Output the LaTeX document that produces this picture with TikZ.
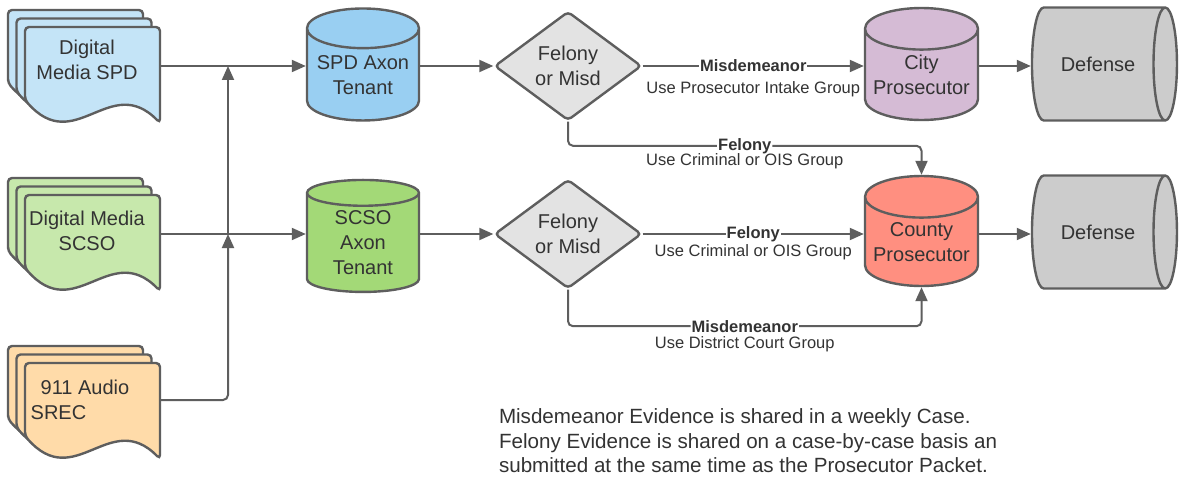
\documentclass[tikz,border=0pt]{standalone}
\usepackage{fontspec}
\setmainfont{Liberation Sans}
\usetikzlibrary{shapes.geometric,arrows.meta}

\definecolor{ink}{HTML}{333333}
\definecolor{wire}{HTML}{5E5E5E}
\definecolor{spdlight}{HTML}{C4E4F7}
\definecolor{spdblue}{HTML}{99CFF2}
\definecolor{scsolight}{HTML}{C7E8AC}
\definecolor{scsogreen}{HTML}{A3D977}
\definecolor{audiotan}{HTML}{FFDBA9}
\definecolor{decide}{HTML}{E3E3E3}
\definecolor{citypink}{HTML}{D5BBD5}
\definecolor{countyred}{HTML}{FF8F80}
\definecolor{defgray}{HTML}{CCCCCC}

% one sheet of a document stack, top left corner at (#1,#2)
\newcommand{\docsheet}[3]{%
  \draw[sheet, fill=#3] (#1,#2+73) -- (#1,#2) -- (#1+135,#2) -- (#1+135,#2+96)
    .. controls (#1+85,#2+45) and (#1+50,#2+130) .. (#1,#2+73) -- cycle;}

\tikzset{
  sheet/.style={draw=wire, line width=2.4pt, rounded corners=4pt},
  doc/.style={align=center, inner sep=0pt, minimum width=144pt, text=ink,
    font=\fontsize{20}{25}\selectfont},
  tank/.style={cylinder, shape border rotate=90, aspect=0.43, draw=wire,
    line width=2.4pt, minimum width=112pt, minimum height=112pt, align=center,
    text=ink, inner sep=0pt, font=\fontsize{20}{25}\selectfont},
  drum/.style={cylinder, aspect=1.6, draw=wire, fill=defgray, line width=2.4pt,
    minimum width=113pt, minimum height=145pt, text=ink, inner sep=0pt,
    font=\fontsize{20}{25}\selectfont},
  choice/.style={diamond, draw=wire, fill=decide, line width=2.4pt,
    rounded corners=4pt, minimum width=147pt, minimum height=109pt, inner sep=0pt,
    align=center, text=ink, font=\fontsize{20}{25}\selectfont},
  lbl/.style={fill=white, inner sep=1pt, text=ink, font=\fontsize{16.5}{18}\selectfont\bfseries},
  sub/.style={text=ink, inner sep=0pt, font=\fontsize{16.5}{18}\selectfont}
}

\begin{document}
\begin{tikzpicture}[x=1pt, y=-1pt, >={Triangle[length=14pt,width=12pt]},
    every path/.style={draw=wire, line width=2pt}]
  \useasboundingbox[fill=white, draw=none] (0,0) rectangle (1180,481);

  % sources
  \docsheet{8}{10}{spdlight}
  \docsheet{16.5}{18.5}{spdlight}
  \docsheet{25}{27}{spdlight}
  \docsheet{8}{178}{scsolight}
  \docsheet{16.5}{186.5}{scsolight}
  \docsheet{25}{195}{scsolight}
  \docsheet{8}{346}{audiotan}
  \docsheet{16.5}{354.5}{audiotan}
  \docsheet{25}{363}{audiotan}
  \node[doc] (spd) at (87,60) {Digital\\Media SPD};
  \node[doc] (scso) at (87,231) {Digital Media\\SCSO};
  \node[doc, align=left, minimum width=158pt] (audio) at (80,400) {\hspace*{10pt}911 Audio\\SREC};

  \node[tank, fill=spdblue] (spdaxon) at (363,75) {SPD Axon\\Tenant};
  \node[tank, fill=scsogreen] (scsoaxon) at (363,243) {SCSO\\Axon\\Tenant};

  \node[choice] (dia1) at (568,66) {Felony\\or Misd};
  \node[choice] (dia2) at (568,234) {Felony\\or Misd};

  \node[tank, fill=citypink, minimum width=113pt] (city) at (921.5,75) {City\\Prosecutor};
  \node[tank, fill=countyred, minimum width=113pt, minimum height=110pt] (county) at (921.5,242) {County\\Prosecutor};

  \node[drum] (def1) at (1098,64) {Defense};
  \node[drum] (def2) at (1098,232) {Defense};

  \coordinate (jspd) at (228,66);
  \coordinate (jscso) at (228,234);

  \draw[->] (spd.east |- dia1) -- (spdaxon.west |- dia1);
  \draw[->] (scso.east |- dia2) -- (scsoaxon.west |- dia2);
  \draw[->, rounded corners=5pt] (audio.east) -| (jscso);
  \draw[->] (jscso) -- (jspd);
  \draw[->] (spdaxon.east |- dia1) -- (dia1.west);
  \draw[->] (scsoaxon.east |- dia2) -- (dia2.west);
  \draw[->] (dia1.east) -- node[lbl] {Misdemeanor}
    node[sub, yshift=-23pt] {Use Prosecutor Intake Group} (city.west |- dia1);
  \draw[->, rounded corners=5pt] (dia1.south) |- node[pos=0.75, lbl] {Felony}
    node[pos=0.75, sub, yshift=-15pt] {Use Criminal or OIS Group} ([yshift=29pt]county.north) -- (county.north);
  \draw[->] (dia2.east) -- node[lbl] {Felony}
    node[sub, yshift=-18pt] {Use Criminal or OIS Group} (county.west |- dia2);
  \draw[->, rounded corners=5pt] (dia2.south) |- node[pos=0.75, lbl] {Misdemeanor}
    node[pos=0.75, sub, yshift=-18pt] {Use District Court Group} ([yshift=-39pt]county.south) -- (county.south);
  \draw[->] (city.east |- dia1) -- (def1.west |- dia1);
  \draw[->] (county.east |- dia2) -- (def2.west |- dia2);

  \node[align=left, anchor=north west, inner sep=0pt, text=ink,
    font=\fontsize{20.6}{24.5}\selectfont] (note) at (498,408)
    {Misdemeanor Evidence is shared in a weekly Case.\\
     Felony Evidence is shared on a case-by-case basis an\\
     submitted at the same time as the Prosecutor Packet.};
\end{tikzpicture}
\end{document}
